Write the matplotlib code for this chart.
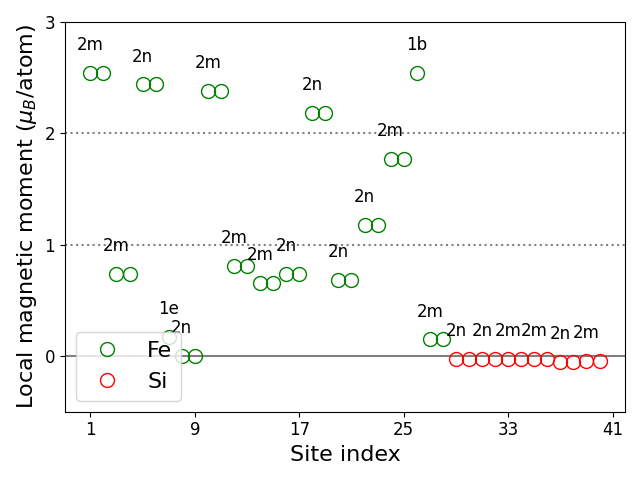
import matplotlib.pyplot as plt
import numpy as np

# site index, local moment and Wyckoff label
fe_site = np.arange(1, 29)
fe_mom = [2.54, 2.54, 0.735, 0.735, 2.44, 2.44, 0.17, 0.0, 0.0, 2.38, 2.38,
          0.81, 0.81, 0.66, 0.66, 0.74, 0.74, 2.18, 2.18, 0.68, 0.68,
          1.18, 1.18, 1.77, 1.77, 2.54, 0.15, 0.15]
si_site = np.arange(29, 41)
si_mom = [-0.025, -0.025, -0.025, -0.025, -0.025, -0.025, -0.025, -0.025,
          -0.05, -0.05, -0.04, -0.04]

lab_site = [1, 3, 5, 7, 8, 10, 12, 14, 16, 18, 20, 22, 24, 26, 27,
            29, 31, 33, 35, 37, 39]
lab_text = ['2m', '2m', '2n', '1e', '2n', '2m', '2m', '2m', '2n', '2n', '2n',
            '2n', '2m', '1b', '2m',
            '2n', '2n', '2m', '2m', '2n', '2m']

all_mom = dict(zip(list(fe_site) + list(si_site), fe_mom + si_mom))

fig, ax = plt.subplots(figsize=(6.4, 4.8))
ax.axhline(0, color='gray', lw=1.5, zorder=0)
ax.axhline(1, color='gray', lw=1.5, ls=':', zorder=0)
ax.axhline(2, color='gray', lw=1.5, ls=':', zorder=0)

ax.plot(fe_site, fe_mom, 'o', mfc='none', mec='green', ms=10, label='Fe')
ax.plot(si_site, si_mom, 'o', mfc='none', mec='red', ms=10, label='Si')

for s, t in zip(lab_site, lab_text):
    ax.text(s, all_mom[s] + 0.25, t, ha='center', va='center', fontsize=12)

ax.set_xticks([1, 9, 17, 25, 33, 41])
ax.set_yticks([0, 1, 2, 3])
ax.set_ylim(-0.5, 3)
ax.tick_params(labelsize=12)
ax.set_xlabel('Site index', fontsize=16)
ax.set_ylabel(r'Local magnetic moment ($\mu_B$/atom)', fontsize=16)
ax.legend(loc='lower left', fontsize=16)

plt.tight_layout()
plt.savefig('out.png', dpi=100)
